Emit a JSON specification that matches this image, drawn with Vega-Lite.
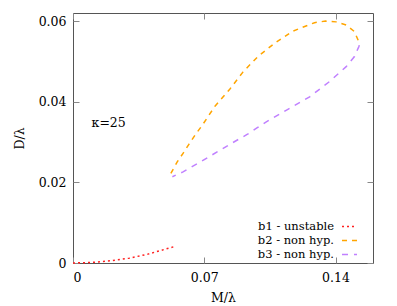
{
  "$schema": "https://vega.github.io/schema/vega-lite/v6.json",
  "width": 300,
  "height": 250,
  "autosize": "none",
  "padding": {"left": 73, "top": 13, "right": 24, "bottom": 43},
  "config": {
    "font": "DejaVu Serif",
    "view": {"stroke": "#555", "strokeWidth": 1},
    "legend": {"labelFont": "DejaVu Serif"},
    "text": {"font": "DejaVu Serif"},
    "axis": {
      "domain": false, "grid": false,
      "tickSize": -6, "tickColor": "#888", "tickWidth": 1,
      "labelFont": "DejaVu Serif", "labelFontSize": 12.5, "labelColor": "#000",
      "titleFont": "DejaVu Serif", "titleFontSize": 12.5, "titleFontWeight": "normal", "titleColor": "#000"
    }
  },
  "datasets": {
    "curves": [
      {"s": "b1 - unstable", "o": 0, "x": 0.0, "y": 0.0},
      {"s": "b1 - unstable", "o": 1, "x": 0.01, "y": 0.00014},
      {"s": "b1 - unstable", "o": 2, "x": 0.02, "y": 0.00055},
      {"s": "b1 - unstable", "o": 3, "x": 0.03, "y": 0.0012},
      {"s": "b1 - unstable", "o": 4, "x": 0.04, "y": 0.0022},
      {"s": "b1 - unstable", "o": 5, "x": 0.0543, "y": 0.0041},
      {"s": "b2 - non hyp.", "o": 0, "x": 0.0522, "y": 0.0222},
      {"s": "b2 - non hyp.", "o": 1, "x": 0.0555, "y": 0.0250},
      {"s": "b2 - non hyp.", "o": 2, "x": 0.0587, "y": 0.0272},
      {"s": "b2 - non hyp.", "o": 3, "x": 0.0619, "y": 0.0295},
      {"s": "b2 - non hyp.", "o": 4, "x": 0.0649, "y": 0.0316},
      {"s": "b2 - non hyp.", "o": 5, "x": 0.0690, "y": 0.0342},
      {"s": "b2 - non hyp.", "o": 6, "x": 0.0756, "y": 0.0388},
      {"s": "b2 - non hyp.", "o": 7, "x": 0.0836, "y": 0.0431},
      {"s": "b2 - non hyp.", "o": 8, "x": 0.0907, "y": 0.0474},
      {"s": "b2 - non hyp.", "o": 9, "x": 0.0986, "y": 0.0512},
      {"s": "b2 - non hyp.", "o": 10, "x": 0.1075, "y": 0.0545},
      {"s": "b2 - non hyp.", "o": 11, "x": 0.1173, "y": 0.0575},
      {"s": "b2 - non hyp.", "o": 12, "x": 0.1288, "y": 0.0596},
      {"s": "b2 - non hyp.", "o": 13, "x": 0.1347, "y": 0.0600},
      {"s": "b2 - non hyp.", "o": 14, "x": 0.1403, "y": 0.0598},
      {"s": "b2 - non hyp.", "o": 15, "x": 0.1457, "y": 0.0590},
      {"s": "b2 - non hyp.", "o": 16, "x": 0.1501, "y": 0.0574},
      {"s": "b2 - non hyp.", "o": 17, "x": 0.1524, "y": 0.0549},
      {"s": "b2 - non hyp.", "o": 18, "x": 0.1527, "y": 0.0540},
      {"s": "b3 - non hyp.", "o": 0, "x": 0.1527, "y": 0.0540},
      {"s": "b3 - non hyp.", "o": 1, "x": 0.1524, "y": 0.0536},
      {"s": "b3 - non hyp.", "o": 2, "x": 0.1501, "y": 0.0512},
      {"s": "b3 - non hyp.", "o": 3, "x": 0.1457, "y": 0.0487},
      {"s": "b3 - non hyp.", "o": 4, "x": 0.1368, "y": 0.0450},
      {"s": "b3 - non hyp.", "o": 5, "x": 0.1262, "y": 0.0412},
      {"s": "b3 - non hyp.", "o": 6, "x": 0.1146, "y": 0.0381},
      {"s": "b3 - non hyp.", "o": 7, "x": 0.1031, "y": 0.0350},
      {"s": "b3 - non hyp.", "o": 8, "x": 0.0981, "y": 0.0335},
      {"s": "b3 - non hyp.", "o": 9, "x": 0.0933, "y": 0.0320},
      {"s": "b3 - non hyp.", "o": 10, "x": 0.0884, "y": 0.0307},
      {"s": "b3 - non hyp.", "o": 11, "x": 0.0839, "y": 0.0295},
      {"s": "b3 - non hyp.", "o": 12, "x": 0.0789, "y": 0.0281},
      {"s": "b3 - non hyp.", "o": 13, "x": 0.0738, "y": 0.0267},
      {"s": "b3 - non hyp.", "o": 14, "x": 0.0688, "y": 0.0253},
      {"s": "b3 - non hyp.", "o": 15, "x": 0.0635, "y": 0.0239},
      {"s": "b3 - non hyp.", "o": 16, "x": 0.0587, "y": 0.0226},
      {"s": "b3 - non hyp.", "o": 17, "x": 0.0530, "y": 0.0214}
    ],
    "notes": [{"label": "κ=25", "x": 0.0099, "y": 0.0348}]
  },
  "layer": [
    {
      "data": {"name": "curves"},
      "mark": {"type": "line", "strokeWidth": 1.5},
      "encoding": {
        "x": {"field": "x", "type": "quantitative", "title": "M/λ",
              "scale": {"domain": [0, 0.16], "nice": false},
              "axis": {"values": [0, 0.07, 0.14], "format": ".2~f", "labelPadding": 14, "titlePadding": 8}},
        "y": {"field": "y", "type": "quantitative", "title": "D/λ",
              "scale": {"domain": [0, 0.062], "nice": false},
              "axis": {"values": [0, 0.02, 0.04, 0.06], "format": ".2~f", "labelPadding": 13, "titlePadding": 12}},
        "order": {"field": "o"},
        "color": {"field": "s", "type": "nominal", "title": null,
                  "scale": {"domain": ["b1 - unstable", "b2 - non hyp.", "b3 - non hyp."],
                            "range": ["#ff2020", "#ffa500", "#c080ff"]},
                  "legend": {"orient": "none", "legendX": 268, "legendY": 205, "symbolType": "stroke", "symbolSize": 225,
                             "symbolStrokeWidth": 1.5, "labelAlign": "right", "labelOffset": -24,
                             "labelFontSize": 11.5, "labelColor": "#000",
                             "rowPadding": -8, "padding": 0}},
        "strokeDash": {"field": "s", "type": "nominal", "title": null,
                       "scale": {"domain": ["b1 - unstable", "b2 - non hyp.", "b3 - non hyp."],
                                 "range": [[2, 3], [5, 5], [6, 6]]}}
      }
    },
    {
      "data": {"name": "notes"},
      "mark": {"type": "text", "align": "left", "baseline": "middle", "fontSize": 12.5},
      "encoding": {
        "x": {"field": "x", "type": "quantitative",
              "axis": {"orient": "top", "values": [0, 0.07, 0.14], "labels": false, "title": null}},
        "y": {"field": "y", "type": "quantitative",
              "axis": {"orient": "right", "values": [0, 0.02, 0.04, 0.06], "labels": false, "title": null}},
        "text": {"field": "label"}
      }
    }
  ],
  "resolve": {"axis": {"x": "independent", "y": "independent"}}
}
